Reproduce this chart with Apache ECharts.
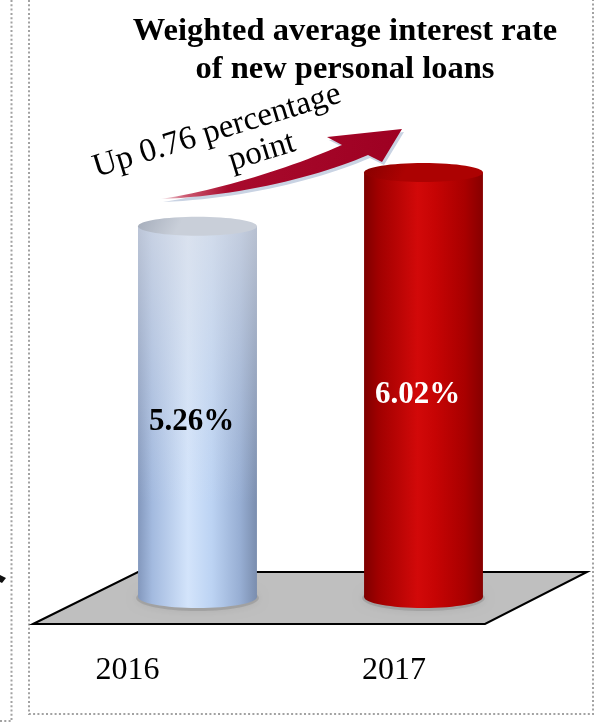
<!DOCTYPE html>
<html>
<head>
<meta charset="utf-8">
<script src="https://cdn.jsdelivr.net/npm/echarts@6/dist/echarts.min.js"></script>
<style>
  html, body { margin: 0; padding: 0; background: #ffffff; }
  #chart { width: 608px; height: 722px; }
</style>
</head>
<body>
<div id="chart"></div>
<script>
// Chart content
const years = ['2016', '2017'];
const rates = [5.26, 6.02];
const titleLines = ['Weighted average interest rate', 'of new personal loans'];
const changeNote = ['Up 0.76 percentage', 'point'];

const serif = "'Liberation Serif', 'Times New Roman', Times, serif";

// Cylinder shading, one look per year
const looks = [
  {
    body: [
      { offset: 0, color: '#8398bd' },
      { offset: 0.12, color: '#a3badf' },
      { offset: 0.42, color: '#d3e4fb' },
      { offset: 0.62, color: '#bcd3f3' },
      { offset: 0.86, color: '#97aed3' },
      { offset: 1, color: '#7a8dae' }
    ],
    haze: 'rgba(222,224,230,0.62)',
    cap: [
      { offset: 0, color: '#a4acba' },
      { offset: 1, color: '#c9cfd9' }
    ],
    label: '#000000'
  },
  {
    body: [
      { offset: 0, color: '#7e0000' },
      { offset: 0.12, color: '#a00000' },
      { offset: 0.45, color: '#d20909' },
      { offset: 0.6, color: '#c60404' },
      { offset: 0.85, color: '#a80000' },
      { offset: 1, color: '#860000' }
    ],
    haze: 'rgba(0,0,0,0)',
    cap: [
      { offset: 0, color: '#860000' },
      { offset: 1, color: '#ac0202' }
    ],
    label: '#ffffff'
  }
];

function renderCylinder(params, api) {
  const i = api.value(0);
  const v = api.value(1);
  const topPt = api.coord([i, v]);
  const basePt = api.coord([i, 0]);
  const band = api.size([1, 0])[0];
  const rx = band * 0.263;
  const cx = topPt[0];
  const yTop = topPt[1];
  const yBase = basePt[1];
  const ryTop = 9.5;
  const ryBase = 11;
  const look = looks[params.dataIndex];
  const bodyFill = () => new echarts.graphic.LinearGradient(0, 0, 1, 0, look.body);

  return {
    type: 'group',
    children: [
      {
        type: 'ellipse',
        shape: { cx: cx, cy: yBase + 1, rx: rx + 2, ry: ryBase + 2 },
        style: { fill: 'rgba(110,110,110,0.28)', shadowBlur: 10, shadowColor: 'rgba(0,0,0,0.3)' }
      },
      {
        type: 'ellipse',
        shape: { cx: cx, cy: yBase, rx: rx, ry: ryBase },
        style: { fill: bodyFill() }
      },
      {
        type: 'rect',
        shape: { x: cx - rx, y: yTop, width: rx * 2, height: yBase - yTop },
        style: { fill: bodyFill() }
      },
      {
        type: 'rect',
        shape: { x: cx - rx, y: yTop, width: rx * 2, height: (yBase - yTop) * 0.75 },
        style: {
          fill: new echarts.graphic.LinearGradient(0, 0, 0, 1, [
            { offset: 0, color: look.haze },
            { offset: 1, color: 'rgba(222,224,230,0)' }
          ])
        }
      },
      {
        type: 'ellipse',
        shape: { cx: cx, cy: yTop, rx: rx, ry: ryTop },
        style: { fill: new echarts.graphic.LinearGradient(0, 0, 0.3, 1, look.cap) }
      },
      {
        type: 'text',
        x: cx - 6,
        y: (yTop + yBase) / 2 + 10,
        style: {
          text: v.toFixed(2) + '%',
          fill: look.label,
          fontSize: 31,
          fontWeight: 'bold',
          fontFamily: serif,
          align: 'center',
          verticalAlign: 'middle'
        }
      }
    ]
  };
}

// Outline of the curved arrow: two cubic edges plus the head
function cubic(p0, p1, p2, p3, n) {
  const pts = [];
  for (let k = 0; k <= n; k++) {
    const t = k / n, u = 1 - t;
    pts.push([
      u * u * u * p0[0] + 3 * u * u * t * p1[0] + 3 * u * t * t * p2[0] + t * t * t * p3[0],
      u * u * u * p0[1] + 3 * u * u * t * p1[1] + 3 * u * t * t * p2[1] + t * t * t * p3[1]
    ]);
  }
  return pts;
}
const arrowOutline = []
  .concat(cubic([161, 199], [220, 190], [290, 168], [342, 145], 24))
  .concat([[327, 137], [402, 129], [382, 162]])
  .concat(cubic([368, 155], [320, 176], [240, 196], [161, 199], 24));

const dotted = { stroke: '#a2a2a2', lineWidth: 2, lineDash: [2, 2.3], fill: null };

const option = {
  backgroundColor: '#ffffff',
  animation: false,
  title: {
    text: titleLines.join('\n'),
    left: 345,
    top: 13,
    padding: 0,
    textAlign: 'center',
    textStyle: {
      fontFamily: serif,
      fontSize: 32.5,
      fontWeight: 'bold',
      lineHeight: 38,
      color: '#000000'
    }
  },
  grid: { left: 84.5, width: 452, top: 33, bottom: 125 },
  xAxis: {
    type: 'category',
    data: years,
    axisLine: { show: false },
    axisTick: { show: false },
    axisLabel: {
      interval: 0,
      margin: 58,
      formatter: (value, idx) => '{y' + idx + '|' + value + '}',
      rich: {
        y0: { fontFamily: serif, fontSize: 32, color: '#000', padding: [0, 140, 0, 0] },
        y1: { fontFamily: serif, fontSize: 32, color: '#000', padding: [0, 59, 0, 0] }
      }
    }
  },
  yAxis: {
    type: 'value',
    min: 0,
    max: 8,
    show: false,
    splitLine: { show: false }
  },
  graphic: [
    // frame lines
    { type: 'line', shape: { x1: 11.5, y1: 0, x2: 11.5, y2: 722 }, style: dotted, silent: true },
    { type: 'line', shape: { x1: 0, y1: 721, x2: 12, y2: 721 }, style: dotted, silent: true },
    {
      type: 'polyline',
      shape: { points: [[29, 0], [29, 714], [593, 714], [593, 0]] },
      style: dotted,
      silent: true
    },
    {
      type: 'polygon',
      shape: { points: [[0, 575], [6, 578], [2, 583], [0, 582]] },
      style: { fill: '#111' },
      silent: true
    },
    // floor plate
    {
      type: 'polygon',
      shape: { points: [[33, 624], [138, 572], [587, 572], [485, 624]] },
      style: { fill: '#bfbfbf', stroke: '#000000', lineWidth: 2, lineJoin: 'miter' },
      silent: true
    },
    // rising arrow with its soft shadow
    {
      type: 'polygon',
      x: 2,
      y: 3,
      shape: { points: arrowOutline },
      style: { fill: '#c9d3e3' },
      silent: true
    },
    {
      type: 'polygon',
      shape: { points: arrowOutline },
      style: {
        fill: new echarts.graphic.LinearGradient(0, 0, 1, 0, [
          { offset: 0, color: '#f5e6ea' },
          { offset: 0.1, color: '#cc5a72' },
          { offset: 0.28, color: '#a80a2c' },
          { offset: 1, color: '#9e0022' }
        ])
      },
      silent: true
    },
    {
      type: 'text',
      x: 217,
      y: 131,
      rotation: 0.297,
      style: {
        text: changeNote[0],
        fill: '#000',
        fontSize: 33,
        fontFamily: serif,
        align: 'center',
        verticalAlign: 'middle'
      },
      silent: true
    },
    {
      type: 'text',
      x: 262,
      y: 152,
      rotation: 0.297,
      style: {
        text: changeNote[1],
        fill: '#000',
        fontSize: 33,
        fontFamily: serif,
        align: 'center',
        verticalAlign: 'middle'
      },
      silent: true
    }
  ],
  series: [
    {
      type: 'custom',
      renderItem: renderCylinder,
      data: rates.map((r, i) => [i, r]),
      z: 5
    }
  ]
};

const chart = echarts.init(document.getElementById('chart'), null, { renderer: 'canvas' });
chart.setOption(option);
</script>
</body>
</html>
